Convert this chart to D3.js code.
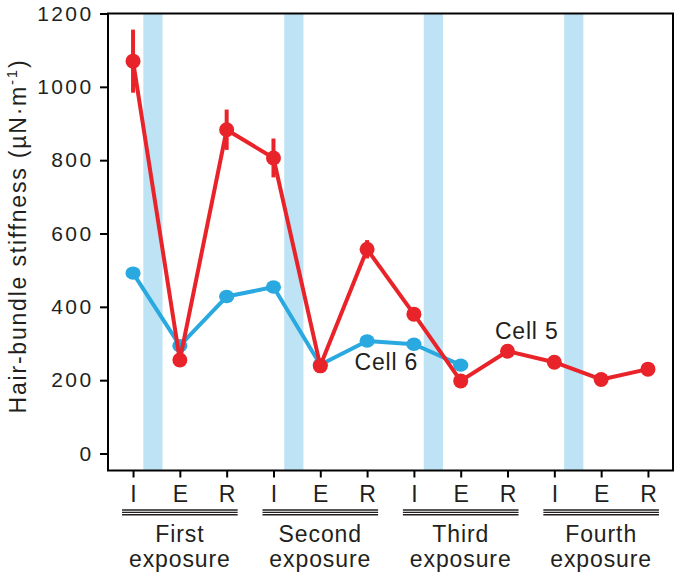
<!DOCTYPE html>
<html>
<head>
<meta charset="utf-8">
<script src="https://cdn.jsdelivr.net/npm/d3@7"></script>
<style>
  html, body { margin: 0; padding: 0; background: #fff; }
  svg { display: block; font-family: "Liberation Sans", Arial, Helvetica, sans-serif; }
</style>
</head>
<body>
<svg id="chart" width="677" height="573"></svg>
<script>
// ---------- data ----------
const phases = ["I", "E", "R", "I", "E", "R", "I", "E", "R", "I", "E", "R"];
const exposures = ["First", "Second", "Third", "Fourth"];
const yTicks = [0, 200, 400, 600, 800, 1000, 1200];
// stimulus periods (in phase-index units, between I and E of each exposure)
const stimulusStart = [0.22, 3.23, 6.21, 9.21];
const stimulusEnd = [0.63, 3.64, 6.62, 9.62];
// Cell 5 (red)
const cell5 = [1070, 255, 883, 806, 239, 557, 380, 198, 279, 249, 202, 230];
const cell5Err = [86, 0, 55, 53, 0, 25, 0, 0, 0, 0, 0, 0];
// Cell 6 (blue)
const cell6 = [492, 294, 428, 454, 242, 307, 298, 241];
// annotation anchors (phase index, stiffness)
const labels = [
  { text: "Cell 6", i: 5.41, v: 228, color: "#231f20" },
  { text: "Cell 5", i: 8.41, v: 313, color: "#231f20" }
];

// ---------- layout ----------
const svg = d3.select("#chart");
const frame = { left: 108, right: 673, top: 13.5, bottom: 470.5 };
const red = "#e8242a", blue = "#29a9e0", band = "#bee3f4";

const x = d3.scaleLinear().domain([-0.535, 11.535]).range([frame.left, frame.right]);
const y = d3.scaleLinear().domain([0, 1200]).range([453.5, 13.5]);

// stimulus bands
svg.append("g").selectAll("rect")
  .data(stimulusStart.map((s, k) => ({ s, e: stimulusEnd[k] })))
  .join("rect")
  .attr("x", d => x(d.s))
  .attr("width", d => x(d.e) - x(d.s))
  .attr("y", frame.top)
  .attr("height", frame.bottom - frame.top)
  .attr("fill", band);

// frame
svg.append("rect")
  .attr("x", frame.left).attr("y", frame.top)
  .attr("width", frame.right - frame.left).attr("height", frame.bottom - frame.top)
  .attr("fill", "none").attr("stroke", "#000").attr("stroke-width", 2);

// y axis
const yAxis = svg.append("g").attr("transform", `translate(${frame.left},0)`)
  .call(d3.axisLeft(y).tickValues(yTicks).tickSize(8).tickPadding(7).tickFormat(d3.format("d")));
yAxis.select(".domain").remove();
yAxis.selectAll("line").attr("stroke", "#000").attr("stroke-width", 2);
yAxis.selectAll("text").attr("font-size", 21).attr("fill", "#231f20")
  .attr("font-family", "Liberation Sans, Arial, sans-serif")
  .style("letter-spacing", "2.4px").attr("dx", "0.5");

// x axis
const xAxis = svg.append("g").attr("transform", `translate(0,${frame.bottom})`)
  .call(d3.axisBottom(x).tickValues(d3.range(phases.length)).tickSize(7).tickPadding(8)
    .tickFormat(i => phases[i]));
xAxis.select(".domain").remove();
xAxis.selectAll("line").attr("stroke", "#000").attr("stroke-width", 2);
xAxis.selectAll("text").attr("font-size", 23).attr("fill", "#231f20")
  .attr("font-family", "Liberation Sans, Arial, sans-serif");

// exposure group triple lines + labels
const groups = svg.append("g");
exposures.forEach((name, k) => {
  const x0 = x(k * 3) - 11, x1 = x(k * 3 + 2) + 11;
  [510, 512.4, 514.8].forEach(yy => {
    groups.append("line").attr("x1", x0).attr("x2", x1).attr("y1", yy).attr("y2", yy)
      .attr("stroke", "#231f20").attr("stroke-width", 1.4);
  });
  const t = groups.append("text").attr("text-anchor", "middle")
    .attr("font-size", 23).attr("fill", "#231f20").style("letter-spacing", "0.9px");
  t.append("tspan").attr("x", x(k * 3 + 1)).attr("y", 542).text(name);
  t.append("tspan").attr("x", x(k * 3 + 1)).attr("y", 566.5).text("exposure");
});

// y title
const yt = svg.append("text")
  .attr("transform", "translate(26,236) rotate(-90)")
  .attr("text-anchor", "middle").attr("font-size", 23).attr("fill", "#231f20")
  .style("letter-spacing", "1.8px");
yt.append("tspan").text("Hair-bundle stiffness (\u00b5N\u00b7m");
yt.append("tspan").attr("font-size", 15).attr("dy", -9).text("-1");
yt.append("tspan").attr("dy", 9).text(")");

// line generator
const line = d3.line().x((d, i) => x(i)).y(d => y(d));

// Cell 6 (blue)
svg.append("path").datum(cell6).attr("d", line)
  .attr("fill", "none").attr("stroke", blue).attr("stroke-width", 4).attr("stroke-linejoin", "round");
svg.append("g").selectAll("ellipse").data(cell6).join("ellipse")
  .attr("cx", (d, i) => x(i)).attr("cy", d => y(d))
  .attr("rx", 7.6).attr("ry", 6.7).attr("fill", blue);

// Cell 5 (red)
svg.append("g").selectAll("line").data(cell5.map((v, i) => ({ v, e: cell5Err[i], i })).filter(d => d.e > 0))
  .join("line")
  .attr("x1", d => x(d.i)).attr("x2", d => x(d.i))
  .attr("y1", d => y(d.v - d.e)).attr("y2", d => y(d.v + d.e))
  .attr("stroke", red).attr("stroke-width", 4);
svg.append("path").datum(cell5).attr("d", line)
  .attr("fill", "none").attr("stroke", red).attr("stroke-width", 4).attr("stroke-linejoin", "round");
svg.append("g").selectAll("circle").data(cell5).join("circle")
  .attr("cx", (d, i) => x(i)).attr("cy", d => y(d))
  .attr("r", 7.5).attr("fill", red);

// annotations
svg.append("g").selectAll("text").data(labels).join("text")
  .attr("x", d => x(d.i)).attr("y", d => y(d.v))
  .attr("text-anchor", "middle").attr("font-size", 23).attr("fill", d => d.color)
  .style("letter-spacing", "0.8px")
  .text(d => d.text);
</script>
</body>
</html>
